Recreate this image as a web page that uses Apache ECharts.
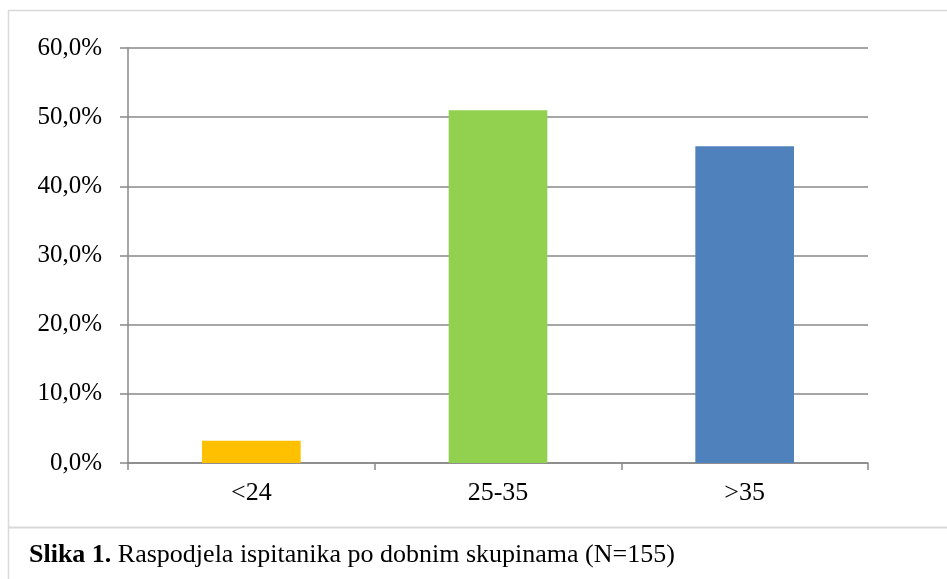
<!DOCTYPE html>
<html>
<head>
<meta charset="utf-8">
<script src="https://cdn.jsdelivr.net/npm/echarts@6/dist/echarts.min.js"></script>
<style>
  html, body { margin: 0; padding: 0; background: #fff; }
  #chart { width: 947px; height: 579px; }
</style>
</head>
<body>
<div id="chart"></div>
<script>
// dobne skupine i udio ispitanika (%)
const categories = ['<24', '25-35', '>35']
const shares = [3.2, 51.0, 45.8]
const barColors = ['#ffc000', '#92d050', '#4f81bd']
const yTicks = { min: 0, max: 60, step: 10 }
const captionBold = 'Slika 1.'
const captionText = ' Raspodjela ispitanika po dobnim skupinama (N=155)'

const font = '"Liberation Serif", "Times New Roman", serif'
const axisGray = '#888888'

const chart = echarts.init(document.getElementById('chart'))

const option = {
  animation: false,
  grid: { left: 128, right: 79, top: 48, bottom: 116 },
  xAxis: {
    type: 'category',
    data: categories,
    axisLine: { lineStyle: { color: axisGray, width: 1.5 } },
    axisTick: { show: true, length: 7, lineStyle: { color: axisGray, width: 1.5 } },
    axisLabel: { color: '#000', fontFamily: font, fontSize: 26, margin: 17 }
  },
  yAxis: {
    type: 'value',
    min: yTicks.min,
    max: yTicks.max,
    interval: yTicks.step,
    axisLine: { show: true, lineStyle: { color: axisGray, width: 1.5 } },
    axisTick: { show: true, length: 8, lineStyle: { color: axisGray, width: 1.5 } },
    splitLine: { lineStyle: { color: axisGray, width: 1.5 } },
    axisLabel: {
      color: '#000', fontFamily: font, fontSize: 25, margin: 26,
      formatter: v => v.toFixed(1).replace('.', ',') + '%'
    }
  },
  series: [{
    type: 'bar',
    barWidth: '40%',
    data: shares.map((v, i) => ({ value: v, itemStyle: { color: barColors[i] } }))
  }],
  graphic: [
    // okvir grafikona
    { type: 'line', shape: { x1: 8, y1: 10.5, x2: 947, y2: 10.5 }, style: { stroke: '#d9d9d9', lineWidth: 1.5 } },
    { type: 'line', shape: { x1: 8.5, y1: 10, x2: 8.5, y2: 579 }, style: { stroke: '#d9d9d9', lineWidth: 1.5 } },
    { type: 'line', shape: { x1: 8, y1: 527.5, x2: 947, y2: 527.5 }, style: { stroke: '#d9d9d9', lineWidth: 2 } },
    {
      type: 'text', left: 29, top: 542,
      style: {
        text: '{b|' + captionBold + '}{r|' + captionText + '}',
        fill: '#000',
        rich: {
          b: { fontWeight: 'bold', fontFamily: font, fontSize: 26 },
          r: { fontFamily: font, fontSize: 26 }
        }
      }
    }
  ]
}

chart.setOption(option)
</script>
</body>
</html>
